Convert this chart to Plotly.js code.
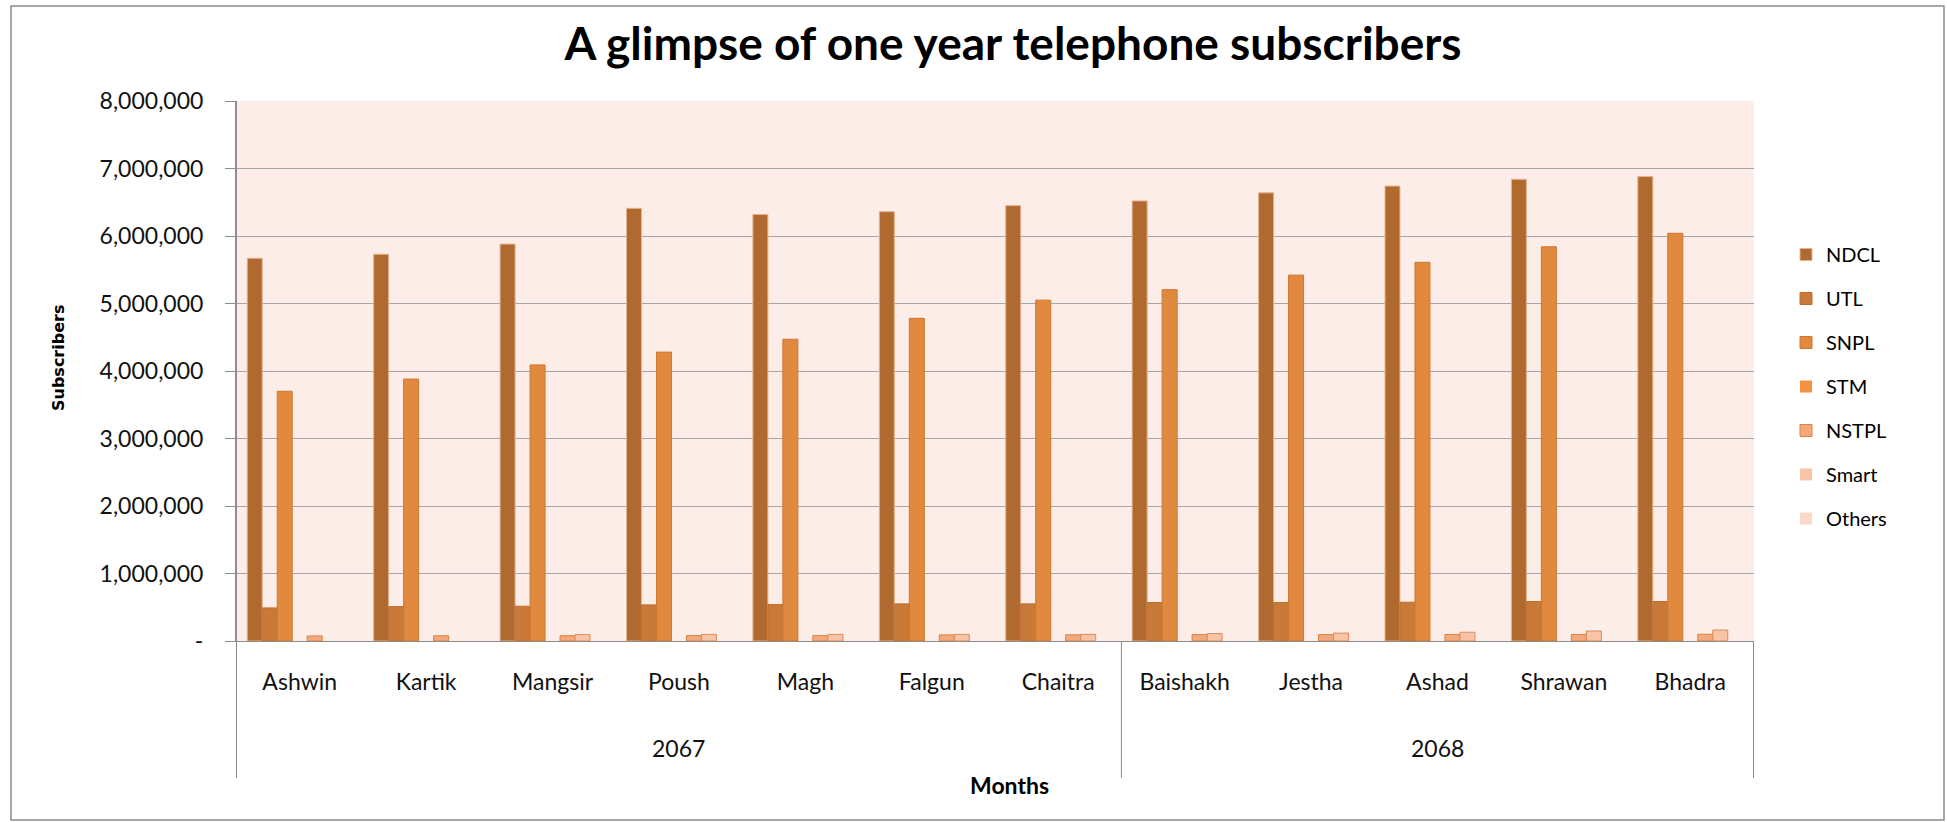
<!DOCTYPE html>
<html>
<head>
<meta charset="utf-8">
<script src="https://cdn.plot.ly/plotly-3.0.1.min.js"></script>
<style>
html,body{margin:0;padding:0;background:#fff;}
#chart{width:1947px;height:822px;}
</style>
</head>
<body>
<div id="chart"></div>
<script>
// Data
const months = ["Ashwin","Kartik","Mangsir","Poush","Magh","Falgun","Chaitra","Baishakh","Jestha","Ashad","Shrawan","Bhadra"];
const years = ["2067","2068"];
const yearMonthIndex = [3, 9]; // centre category of each year block
const yearBoundaries = [-0.5, 6.5, 11.5];

const seriesNames = ["NDCL","UTL","SNPL","STM","NSTPL","Smart","Others"];
const NDCL   = [5670000,5730000,5880000,6410000,6320000,6360000,6450000,6520000,6640000,6740000,6840000,6880000];
const UTL    = [490000,510000,515000,535000,540000,550000,550000,570000,570000,575000,585000,585000];
const SNPL   = [3700000,3880000,4090000,4280000,4470000,4780000,5050000,5205000,5420000,5610000,5840000,6040000];
const STM    = [0,0,0,0,0,0,0,0,0,0,0,0];
const NSTPL  = [75000,77000,78000,80000,80000,90000,92000,95000,95000,97000,97000,100000];
const Smart  = [0,0,95000,98000,98000,98000,98000,110000,117000,130000,148000,163000];
const Others = [0,0,0,0,0,0,0,0,0,0,0,0];

const yTickVals = [0,1000000,2000000,3000000,4000000,5000000,6000000,7000000,8000000];
const yTickText = ["-","1,000,000","2,000,000","3,000,000","4,000,000","5,000,000","6,000,000","7,000,000","8,000,000"];

const seriesValues = [NDCL, UTL, SNPL, STM, NSTPL, Smart, Others];
const fillColors = ["#b06a2f","#c97a38","#e0893f","#f39240","#f4a97a","#f8c4a5","#fbd9ca"];
const lineColors = ["#e3b48f","#c06e30","#cf7630","#d9792e","#d98246","#d98c5f","#d99a7c"];

const FONT = "Lato, 'Open Sans', 'Liberation Sans', sans-serif";

const traces = seriesNames.map((n, i) => {
  const vals = seriesValues[i];
  const allPositive = vals.every(v => v > 0);
  return {
    type: "bar",
    name: n,
    x: months,
    y: vals,
    legendgroup: n,
    marker: {
      color: fillColors[i],
      line: {color: lineColors[i], width: allPositive ? 1 : vals.map(v => (v > 0 ? 1 : 0))}
    },
    hoverinfo: "x+y+name"
  };
});

const L = 236, R = 193, T = 101, B = 181;
const plotW = 1947 - L - R, plotH = 822 - T - B;
const px2x = (px) => (px - L) / plotW;
const px2y = (py) => (822 - B - py) / plotH;

const shapes = yearBoundaries.map(b => ({
  type: "line", xref: "x", yref: "paper",
  x0: b, x1: b, y0: (b === -0.5 ? 1 : 0), y1: px2y(778),
  line: {color: "#8c8c8c", width: 1}
}));
shapes.push({
  type: "rect", xref: "paper", yref: "paper",
  x0: px2x(11), x1: px2x(1944), y0: px2y(6), y1: px2y(820),
  line: {color: "#8a8a8a", width: 1.5}, fillcolor: "rgba(0,0,0,0)", layer: "below"
});

const annotations = years.map((yr, i) => ({
  xref: "x", yref: "paper", x: yearMonthIndex[i], y: px2y(748),
  text: yr, showarrow: false, yanchor: "middle",
  font: {family: FONT, size: 23, color: "#111"}
}));
annotations.push({
  xref: "paper", yref: "paper", x: px2x(1009), y: px2y(785),
  text: "<b>Months</b>", showarrow: false, yanchor: "middle",
  font: {family: FONT, size: 23, color: "#000"}
});
annotations.push({
  xref: "paper", yref: "paper", x: px2x(58), y: px2y(358),
  text: "<b>Subscribers</b>", showarrow: false, textangle: -90,
  xanchor: "center", yanchor: "middle",
  font: {family: "'DejaVu Sans', Verdana, sans-serif", size: 16, color: "#000"}
});

const layout = {
  width: 1947, height: 822,
  margin: {l: L, r: R, t: T, b: B, pad: 0},
  paper_bgcolor: "#ffffff",
  plot_bgcolor: "#fcede8",
  barmode: "group",
  bargap: 0.17,
  bargroupgap: 0,
  title: {
    text: "<b>A glimpse of one year telephone subscribers</b>",
    x: 1013 / 1947, xanchor: "center",
    y: 1 - 44 / 822, yanchor: "middle",
    font: {family: FONT, size: 46, color: "#000"}
  },
  xaxis: {
    type: "category",
    showgrid: false,
    showline: true, linecolor: "#8c8c8c", linewidth: 1,
    ticks: "", ticklabelstandoff: 20,
    tickfont: {family: FONT, size: 23, color: "#111"},
    zeroline: false, fixedrange: true
  },
  yaxis: {
    range: [0, 8000000],
    tickvals: yTickVals, ticktext: yTickText,
    showgrid: true, gridcolor: "#a6a6a6", gridwidth: 1,
    showline: true, linecolor: "#8c8c8c", linewidth: 1,
    ticks: "outside", ticklen: 10, tickcolor: "#8c8c8c",
    ticklabelstandoff: 17,
    tickfont: {family: FONT, size: 23, color: "#111"},
    zeroline: false, fixedrange: true
  },
  showlegend: true,
  legend: {
    x: px2x(1786), xanchor: "left",
    y: px2y(235), yanchor: "top",
    bgcolor: "rgba(0,0,0,0)",
    font: {family: FONT, size: 20, color: "#000"},
    tracegroupgap: 15,
    traceorder: "grouped",
    itemclick: false, itemdoubleclick: false
  },
  shapes: shapes,
  annotations: annotations
};

Plotly.newPlot("chart", traces, layout, {displayModeBar: false, staticPlot: true});
</script>
</body>
</html>
